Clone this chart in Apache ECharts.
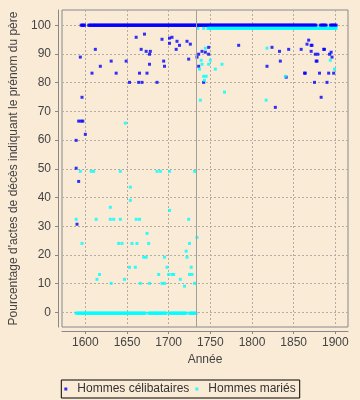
<!DOCTYPE html>
<html><head><meta charset="utf-8">
<script src="https://cdn.jsdelivr.net/npm/echarts@6/dist/echarts.min.js"></script>
<style>html,body{margin:0;padding:0;background:#FAEBD7}#c{width:360px;height:400px}</style>
</head><body><div id="c"></div>
<script>
const xTicks = [1600, 1650, 1700, 1750, 1800, 1850, 1900];
const yTicks = [0, 10, 20, 30, 40, 50, 60, 70, 80, 90, 100];

// Hommes célibataires : years at 100 %
const celibFullValue = 100;
const celibFullYears = [
 1595,1596,1597,1598,1599,
 1604,1605,1606,1607,1608,1609,
 1610,1611,1612,1613,1614,1615,1616,1617,1618,1619,
 1620,1621,1622,1623,1624,1625,1626,1627,1628,1629,
 1630,1631,1632,1633,1634,1635,1636,1637,1638,1639,
 1640,1641,1642,1643,1644,1645,1646,1647,1648,1649,
 1650,1651,1652,1653,1654,1655,1656,1657,1658,1659,
 1660,1661,1662,1663,1664,1665,1666,1667,1668,1669,
 1670,1671,1672,1673,1674,1675,1676,1677,1678,1679,
 1680,1681,1682,1683,1684,1685,1686,1687,1688,1689,
 1690,1691,1692,1693,1694,1695,1696,1697,1698,1699,
 1700,1701,1702,1703,1704,1705,1706,1707,1708,1709,
 1710,1711,1712,1713,1714,1715,1716,1717,1718,1719,
 1720,1721,1722,1723,1724,1725,1726,1727,1728,1729,
 1730,1731,1732,1733,1734,1735,1736,1737,1738,1739,
 1740,1741,1742,1743,1744,1745,1746,1747,1748,1749,
 1750,1751,1752,1753,1754,1755,1756,1757,1758,1759,
 1760,1761,1762,1763,1764,1765,1766,1767,1768,1769,
 1770,1771,1772,1773,1774,1775,1776,1777,1778,1779,
 1780,1781,1782,1783,1784,1785,1786,1787,1788,1789,
 1790,1791,1792,1793,1794,1795,1796,1797,1798,1799,
 1800,1801,1802,1803,1804,1805,1806,1807,1808,1809,
 1810,1811,1812,1813,1814,1815,1816,1817,1818,1819,
 1820,1821,1822,1823,1824,1825,1826,1827,1828,1829,
 1830,1831,1832,1833,1834,1835,1836,1837,1838,1839,
 1840,1841,1842,1843,1844,1845,1846,1847,1848,1849,
 1850,1851,1852,1853,1854,1855,1856,1857,1858,1859,
 1860,1861,1862,1863,1864,1865,1866,1867,1868,1869,
 1870,1871,1872,1873,1874,1875,1876,1877,
 1882,1883,1884,1885,1886,1887,1888,1889,
 1894,1895,1896,1897,1898,1899,1900,1901
];
// Hommes célibataires : other values [year, %]
const celibOther = [
 [1589,59.9],[1589,50.2],[1590,30.7],[1592,45.6],[1592,66.6],[1595,66.6],[1597,66.6],
 [1594,88.9],[1596,74.9],[1600,62.0],[1608,83.3],[1612,91.6],[1618,85.7],[1631,87.5],
 [1637,83.3],[1649,87.5],[1653,80.1],[1661,95.8],[1664,80.1],[1665,83.3],[1667,91.6],
 [1668,80.1],[1671,96.9],[1673,90.9],[1674,83.3],[1677,89.9],[1677,86.4],[1678,90.9],
 [1686,80.1],[1692,95.1],[1694,87.5],[1695,85.7],[1701,95.5],[1701,93.7],[1704,95.8],
 [1709,91.6],[1710,94.4],[1713,93.0],[1722,94.4],[1724,88.2],[1726,93.4],[1734,88.9],
 [1736,89.9],[1736,85.7],[1740,90.9],[1742,80.1],[1744,90.6],[1748,92.3],[1748,89.9],
 [1784,93.0],[1818,85.7],[1824,92.3],[1828,71.4],[1833,90.9],[1834,87.5],[1841,81.9],
 [1844,91.6],[1859,91.6],[1863,83.3],[1864,83.3],[1866,93.4],[1868,94.8],[1871,93.0],
 [1872,93.0],[1871,90.9],[1875,80.1],[1876,89.9],[1877,87.5],[1878,87.5],[1879,89.9],
 [1881,83.3],[1883,74.9],[1886,91.6],[1887,91.6],[1890,80.1],[1892,83.3],[1893,89.9],
 [1895,90.6],[1896,88.9],[1898,83.3]
];

// Hommes mariés : years at about 0 %
const marieZeroValue = -0.3;
const marieZeroYears = [
 1589,1590,1591,1592,1593,1594,1595,1596,1597,1598,1599,
 1600,1601,1602,1603,1604,1605,1606,1607,1608,1609,
 1610,1611,1612,1613,1614,1615,1616,1617,1618,1619,
 1620,1621,1622,1623,1624,1625,1626,1627,1628,1629,
 1630,1631,1632,1633,1634,1635,1636,1637,1638,1639,
 1640,1641,1642,1643,1644,1645,1646,1647,1648,1649,
 1650,1651,1652,1653,1654,1655,1656,1657,1658,1659,
 1660,1661,1662,1663,1664,1665,1666,1667,1668,1669,
 1670,1671,1672,1676,1677,1678,1679,
 1680,1681,1682,1683,1684,1685,1686,1687,1688,1689,
 1690,1691,1692,1693,1694,1695,1696,1697,
 1701,1702,1703,1704,1705,1706,1707,1708,1709,
 1710,1711,1712,1713,1714,1715,1716,1717,1718,1719,
 1720,1721,1725,1726,1727,1728,1729,1730,1731,1732,1733
];
// Hommes mariés : years at about 99 %
const marieFullValue = 98.9;
const marieFullYears = [
 1735,1742,1747,1748,1749,
 1750,1751,1752,1753,1754,1755,1756,1757,1758,1759,
 1760,1761,1762,1763,1764,1765,1766,1767,1768,1769,
 1770,1771,1772,1773,1774,1775,1776,1777,1778,1779,
 1780,1781,1782,1783,1784,1785,1786,1787,1788,1789,
 1790,1791,1792,1793,1794,1795,1796,1797,1798,1799,
 1800,1801,1802,1803,1804,1805,1806,1807,1808,1809,
 1810,1811,1812,1813,1814,1815,1816,1817,1818,1819,
 1820,1821,1822,1823,1824,1825,1826,1827,1828,1829,
 1830,1831,1832,1833,1834,1835,1836,1837,1838,1839,
 1840,1841,1842,1843,1844,1845,1846,1847,1848,1849,
 1850,1851,1852,1853,1854,1855,1856,1857,1858,1859,
 1860,1861,1862,1863,1864,1865,1866,1867,1868,1869,
 1870,1871,1872,1873,1874,1875,1876,1877,1878,1879,
 1880,1881,1882,1883,1884,1885,1886,1887,1888,1889,
 1890,1891,1892,1893,1894,1895,1896,1897,1898,1899,
 1900,1901
];
// Hommes mariés : other values [year, %]
const marieOther = [
 [1589,32.4],[1594,49.1],[1596,24.0],[1607,49.1],[1610,49.1],[1613,32.4],[1614,11.5],
 [1617,13.2],[1630,36.6],[1630,32.4],[1631,10.1],[1634,32.4],[1640,24.0],[1642,49.1],
 [1642,32.4],[1644,24.0],[1647,11.5],[1648,65.9],[1653,15.7],[1654,43.6],[1654,39.0],
 [1656,24.0],[1660,15.7],[1661,32.4],[1662,24.0],[1665,32.4],[1666,10.1],[1670,19.2],
 [1673,19.2],[1674,27.5],[1676,24.0],[1677,10.1],[1686,49.1],[1688,13.2],[1690,49.1],
 [1692,10.1],[1695,19.2],[1695,10.1],[1698,15.7],[1700,13.2],[1701,49.1],[1701,35.5],
 [1704,13.2],[1706,13.2],[1714,11.5],[1719,9.1],[1721,21.3],[1722,19.2],[1724,32.4],
 [1725,24.0],[1725,13.2],[1727,15.7],[1728,13.2],[1731,49.1],[1731,10.1],[1734,26.1],
 [1737,84.7],[1738,73.9],[1739,87.8],[1740,86.4],[1742,82.2],[1743,80.8],[1744,92.0],
 [1745,82.2],[1748,86.4],[1750,87.8],[1756,84.7],[1764,86.4],[1767,76.7],[1817,73.9],
 [1818,92.0],[1840,82.2],[1894,87.8],[1899,84.7]
];
const separatorYear = 1733;

const celibData = celibFullYears.map(y => [y, celibFullValue]).concat(celibOther);
const marieData = marieZeroYears.map(y => [y, marieZeroValue])
  .concat(marieFullYears.map(y => [y, marieFullValue])).concat(marieOther);

const font = '"Liberation Sans", Arial, sans-serif';
const txt = '#444';
const axisCol = '#888';
const gridLine = { show: true, lineStyle: { color: '#b3aca4', type: [2, 2], width: 1 } };

const chart = echarts.init(document.getElementById('c'), null, { renderer: 'canvas' });
chart.setOption({
  backgroundColor: '#FAEBD7',
  animation: false,
  grid: { left: 62, right: 12, top: 10, bottom: 73, show: true,
          backgroundColor: '#FAEBD7', borderColor: axisCol, borderWidth: 1 },
  xAxis: {
    type: 'value', min: 1572, max: 1915.2, offset: 4,
    name: 'Année', nameLocation: 'middle', nameGap: 23,
    nameTextStyle: { color: txt, fontSize: 12, fontFamily: font },
    axisLine: { show: true, onZero: false, lineStyle: { color: axisCol } },
    axisTick: { show: true, length: 3, customValues: xTicks, lineStyle: { color: axisCol } },
    axisLabel: { customValues: xTicks, color: txt, fontSize: 12, fontFamily: font, margin: 6,
                 formatter: v => String(v) },
    splitLine: gridLine
  },
  yAxis: {
    type: 'value', min: -5.1, max: 105.3, offset: 4,
    name: "Pourcentage d'actes de décès indiquant le prénom du père",
    nameLocation: 'middle', nameGap: 31, nameRotate: 90,
    nameTextStyle: { color: txt, fontSize: 12, fontFamily: font },
    axisLine: { show: true, onZero: false, lineStyle: { color: axisCol } },
    axisTick: { show: true, length: 3, customValues: yTicks, lineStyle: { color: axisCol } },
    axisLabel: { customValues: yTicks, color: txt, fontSize: 12, fontFamily: font, margin: 7,
                 formatter: v => String(v) },
    splitLine: gridLine
  },
  legend: {
    bottom: 2, left: 'center', orient: 'horizontal',
    borderColor: '#000', borderWidth: 1, padding: [3, 4, 3, 3],
    itemWidth: 13, itemHeight: 3, itemGap: 6, symbolKeepAspect: true,
    textStyle: { color: '#333', fontSize: 12, fontFamily: font },
    data: [
      { name: 'Hommes célibataires', icon: 'path://M0,0h3v3h-3z' },
      { name: 'Hommes mariés', icon: 'path://M0,0h3v3h-3z' }
    ]
  },
  series: [
    {
      name: 'Hommes célibataires', type: 'scatter', symbol: 'rect', symbolSize: 3,
      itemStyle: { color: '#0000FF' }, emphasis: { disabled: true }, data: celibData,
      z: 3,
      markLine: {
        silent: true, symbol: 'none', animation: false,
        label: { show: false },
        lineStyle: { color: '#a0a0a0', type: 'solid', width: 1 },
        emphasis: { disabled: true },
        data: [{ xAxis: separatorYear }]
      }
    },
    {
      name: 'Hommes mariés', type: 'scatter', symbol: 'rect', symbolSize: 3,
      itemStyle: { color: '#00FFFF' }, emphasis: { disabled: true }, data: marieData,
      z: 4
    }
  ]
});
</script>
</body></html>
